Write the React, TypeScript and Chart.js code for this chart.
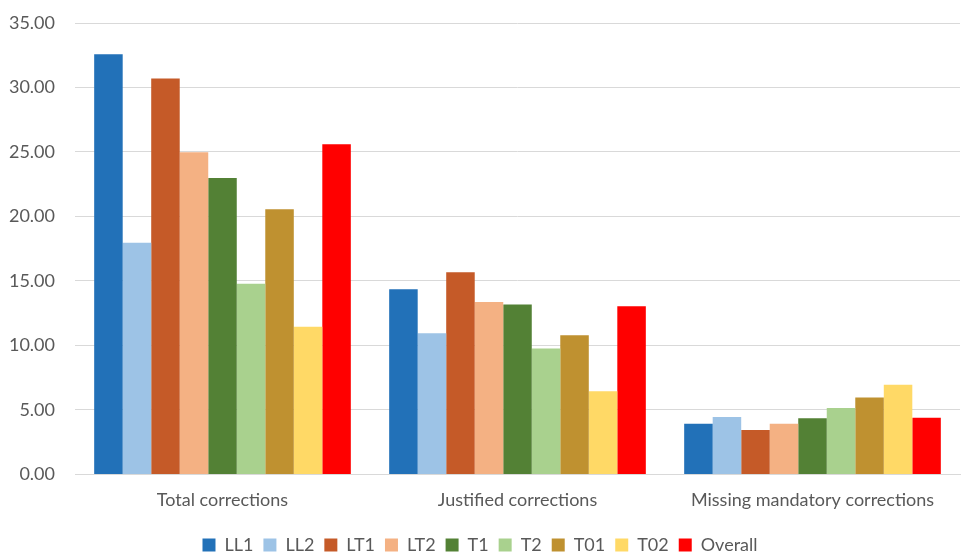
import React, { useEffect, useRef } from "react";
import { Chart, registerables } from "chart.js";

Chart.register(...registerables);

const categories = ["Total corrections", "Justified corrections", "Missing mandatory corrections"];
const seriesNames = ["LL1", "LL2", "LT1", "LT2", "T1", "T2", "T01", "T02", "Overall"];
const seriesColors = ["#2271b8", "#9dc3e6", "#c55a28", "#f4b183", "#538135", "#a9d18e", "#bf9130", "#ffd966", "#ff0000"];
const LL1 = [32.58, 14.35, 3.93];
const LL2 = [17.97, 10.95, 4.45];
const LT1 = [30.7, 15.68, 3.45];
const LT2 = [24.98, 13.36, 3.93];
const T1 = [22.98, 13.17, 4.35];
const T2 = [14.78, 9.76, 5.15];
const T01 = [20.55, 10.78, 5.96];
const T02 = [11.45, 6.45, 6.95];
const Overall = [25.6, 13.03, 4.4];
const seriesValues = [LL1, LL2, LT1, LT2, T1, T2, T01, T02, Overall];
const yTicks = [0, 5, 10, 15, 20, 25, 30, 35];

export default function App() {
  const ref = useRef<HTMLCanvasElement | null>(null);
  useEffect(() => {
    if (!ref.current) return;
    const font = { family: "Lato, 'Open Sans', sans-serif", size: 18 };
    const chart = new Chart(ref.current, {
      type: "bar",
      data: {
        labels: categories,
        datasets: seriesNames.map((n, i) => ({
          label: n,
          data: seriesValues[i],
          backgroundColor: seriesColors[i],
          borderWidth: 0,
          categoryPercentage: 0.87,
          barPercentage: 1.0,
        })),
      },
      options: {
        animation: false,
        responsive: false,
        maintainAspectRatio: false,
        layout: { padding: { top: 23, right: 1, left: 0, bottom: -11 } },
        plugins: {
          legend: {
            position: "bottom",
            labels: {
              font,
              color: "#595959",
              boxWidth: 13,
              boxHeight: 13,
              padding: 10,
            },
          },
          tooltip: { enabled: false },
        },
        scales: {
          x: {
            grid: { display: false, drawTicks: false },
            border: { display: true, color: "#d9d9d9", width: 1 },
            ticks: { font, color: "#595959", padding: 15 },
          },
          y: {
            min: 0,
            max: 35,
            afterBuildTicks: (axis: any) => {
              axis.ticks = yTicks.map((v) => ({ value: v }));
            },
            afterFit: (axis: any) => {
              axis.width = 75;
              axis.paddingTop = 0;
              axis.paddingBottom = 0;
            },
            grid: { color: "#d9d9d9", lineWidth: 1, drawTicks: false },
            border: { display: false },
            ticks: {
              font,
              color: "#595959",
              padding: 20,
              callback: (v: any) => Number(v).toFixed(2),
            },
          },
        },
      },
    });
    return () => chart.destroy();
  }, []);
  return (
    <div style={{ position: "fixed", left: 0, top: 0, width: 961, height: 553, background: "#fff" }}>
      <canvas ref={ref} width={961} height={553} style={{ width: 961, height: 553 }} />
    </div>
  );
}
